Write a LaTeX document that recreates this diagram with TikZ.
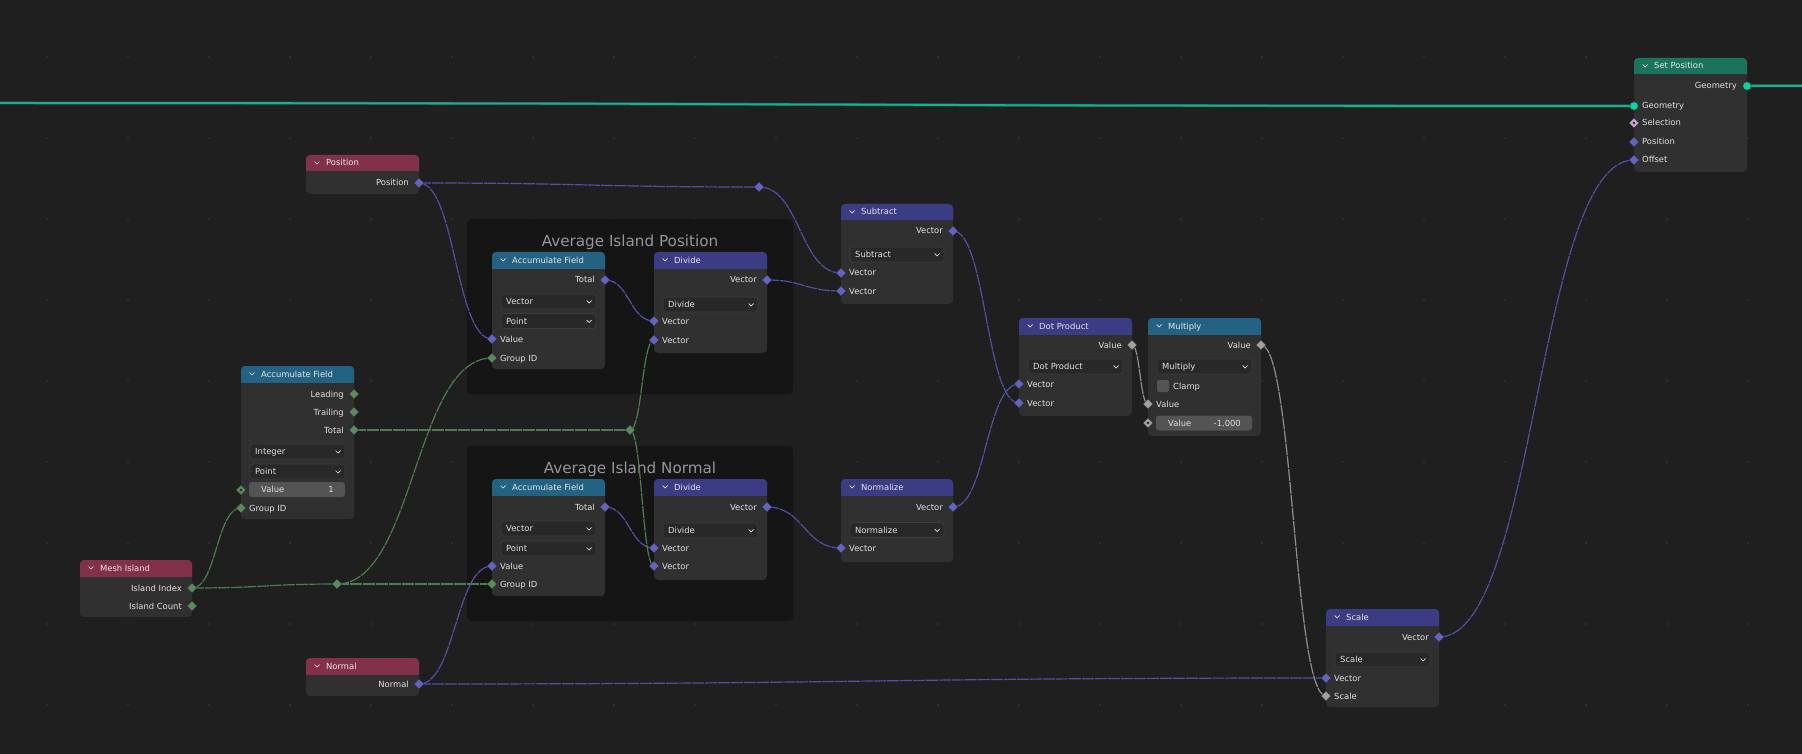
\documentclass[tikz,border=0pt]{standalone}
\usepackage{fontspec}
\setmainfont{DejaVu Sans}
\usetikzlibrary{shapes.geometric, calc, positioning}

\definecolor{bgc}{RGB}{31,31,31}
\definecolor{gridc}{RGB}{44,44,44}
\definecolor{framec}{RGB}{21,21,21}
\definecolor{bodyc}{RGB}{48,48,48}
\definecolor{ddc}{RGB}{40,40,40}
\definecolor{ddline}{RGB}{62,62,62}
\definecolor{fieldc}{RGB}{84,84,84}
\definecolor{txtc}{RGB}{224,224,224}
\definecolor{titlec}{RGB}{150,150,150}
\definecolor{hdrin}{RGB}{131,49,74}
\definecolor{hdrconv}{RGB}{36,98,131}
\definecolor{hdrvec}{RGB}{60,60,133}
\definecolor{hdrgeo}{RGB}{27,115,94}
\definecolor{vecc}{RGB}{99,99,199}
\definecolor{intc}{RGB}{89,140,92}
\definecolor{fltc}{RGB}{161,161,161}
\definecolor{geoc}{RGB}{0,214,163}
\definecolor{boolc}{RGB}{204,166,214}

\pgfdeclarelayer{back}
\pgfdeclarelayer{wires}
\pgfsetlayers{back,wires,main}

\tikzset{
  lbl/.style={
    inner sep=0,
    text=txtc,
    font=\fontsize{8.4}{10}\selectfont,
    text height=6.5pt,
    text depth=0.5pt
  },
  hdr/.style={
    lbl,
    text=white!90!black
  },
  ftitle/.style={
    inner sep=0,
    text=titlec,
    font=\fontsize{15.2}{18}\selectfont
  },
  chev/.style={
    draw=txtc,
    line width=0.7pt
  },
  sock/.style={
    diamond,
    inner sep=0,
    minimum size=10pt,
    draw=black!80,
    line width=0.4pt
  },
  vsock/.style={sock, fill=vecc},
  isock/.style={sock, fill=intc},
  fsock/.style={sock, fill=fltc},
  hollow/.style={
    path picture={\fill[bodyc!70!black] (path picture bounding box.center) circle (1.4pt);}
  },
  gsock/.style={
    circle,
    inner sep=0,
    minimum size=8.5pt,
    fill=geoc,
    draw=black!80,
    line width=0.4pt
  },
  wire/.style={
    line width=1.2pt,
    to path={let \p1=(\tikztostart), \p2=(\tikztotarget),
      \n1={0.5*abs(\x2-\x1)} in
      .. controls +(\n1,0) and +(-\n1,0) .. (\tikztotarget)}
  },
  vwire/.style={wire, draw=vecc!82!black, dash pattern=on 12pt off 1pt},
  iwire/.style={wire, draw=intc!88!black, dash pattern=on 12pt off 1pt},
  fwire/.style={wire, draw=fltc!88!black, dash pattern=on 12pt off 1pt},
  geowire/.style={
    wire,
    draw=black!70,
    line width=0.6pt,
    double=geoc!88!black,
    double distance=1.8pt
  }
}

% node body: name, left, top, right, bottom, header colour, title
\newcommand{\bnode}[7]{%
  \fill[bodyc, rounded corners=4pt] (#2,#3) rectangle (#4,#5);
  \begin{scope}
    \clip (#2,#3) rectangle (#4,#3+16);
    \fill[#6, rounded corners=4pt] (#2,#3) rectangle (#4,#5);
  \end{scope}
  \draw[chev] (#2+8.5,#3+6.5) -- (#2+11,#3+9) -- (#2+13.5,#3+6.5);
  \node[hdr, anchor=west] (#1) at (#2+20,#3+8) {#7};
}
% sockets: name, x, y, style, label
\newcommand{\osock}[5]{%
  \node[#4] (#1) at (#2,#3) {};
  \node[lbl, anchor=east] (#1-t) at (#2-10,#3) {#5};
}
\newcommand{\isockt}[5]{%
  \node[#4] (#1) at (#2,#3) {};
  \node[lbl, anchor=west] (#1-t) at (#2+8,#3) {#5};
}
% dropdown: name, left, right, y, text
\newcommand{\dd}[5]{%
  \draw[fill=ddc, draw=ddline, line width=0.6pt, rounded corners=3pt]
    (#2+9,#4-7.5) rectangle (#3-9,#4+7.5);
  \node[lbl, anchor=west] (#1) at (#2+14,#4) {#5};
  \draw[chev, line width=0.7pt] (#3-18.5,#4-1) -- (#3-16,#4+1.5) -- (#3-13.5,#4-1);
}
% value field: name, left, right, y, number
\newcommand{\vfield}[5]{%
  \fill[fieldc, rounded corners=3pt] (#2+8,#4-7.5) rectangle (#3-9,#4+7.5);
  \node[lbl, anchor=west] (#1) at (#2+20,#4) {Value};
  \node[lbl, anchor=east] (#1-n) at (#3-20,#4) {#5};
}

\begin{document}
\begin{tikzpicture}[x=1pt, y=-1pt]
\useasboundingbox (0,0) rectangle (1802,754);

\begin{pgfonlayer}{back}
\fill[bgc] (0,0) rectangle (1802,754);
\foreach \gx in {0,...,21}
  \foreach \gy in {0,...,8}
    \fill[gridc] ({46+81*\gx},{56+81*\gy}) rectangle +(2,2);

% --- Frames ---
\fill[framec, rounded corners=4pt] (467,219) rectangle (793,394);
\node[ftitle] (fr-pos) at (630,242) {Average Island Position};
\fill[framec, rounded corners=4pt] (467,446) rectangle (793,621);
\node[ftitle] (fr-nrm) at (630,469) {Average Island Normal};
\end{pgfonlayer}

% --- Inputs ---
\bnode{pos}{306}{155}{419}{194}{hdrin}{Position}
\osock{pos-out}{419}{183}{vsock}{Position}

\bnode{nrm}{306}{658}{419}{696}{hdrin}{Normal}
\osock{nrm-out}{419}{684}{vsock}{Normal}

\bnode{mi}{80}{560}{192}{617}{hdrin}{Mesh Island}
\osock{mi-idx}{192}{588}{isock}{Island Index}
\osock{mi-cnt}{192}{606}{isock}{Island Count}

% --- Accumulate Field (integer) ---
\bnode{accl}{241}{366}{354}{519}{hdrconv}{Accumulate Field}
\osock{accl-lead}{354}{394}{isock}{Leading}
\osock{accl-trail}{354}{412}{isock}{Trailing}
\osock{accl-tot}{354}{430}{isock}{Total}
\dd{accl-dt}{241}{354}{451.5}{Integer}
\dd{accl-dd}{241}{354}{471.5}{Point}
\node[isock, hollow] (accl-val) at (241,490) {};
\vfield{accl-vf}{241}{354}{489.5}{1}
\isockt{accl-gid}{241}{508}{isock}{Group ID}

% --- Average Island Position ---
\bnode{acct}{492}{252}{605}{369}{hdrconv}{Accumulate Field}
\osock{acct-tot}{605}{280}{vsock}{Total}
\dd{acct-dt}{492}{605}{301.5}{Vector}
\dd{acct-dd}{492}{605}{321}{Point}
\isockt{acct-val}{492}{339}{vsock}{Value}
\isockt{acct-gid}{492}{358}{isock}{Group ID}

\bnode{divt}{654}{252}{767}{353}{hdrvec}{Divide}
\osock{divt-out}{767}{280}{vsock}{Vector}
\dd{divt-op}{654}{767}{304.5}{Divide}
\isockt{divt-a}{654}{321}{vsock}{Vector}
\isockt{divt-b}{654}{340}{vsock}{Vector}

% --- Average Island Normal ---
\bnode{accb}{492}{479}{605}{596}{hdrconv}{Accumulate Field}
\osock{accb-tot}{605}{507}{vsock}{Total}
\dd{accb-dt}{492}{605}{528.5}{Vector}
\dd{accb-dd}{492}{605}{548.5}{Point}
\isockt{accb-val}{492}{566}{vsock}{Value}
\isockt{accb-gid}{492}{584}{isock}{Group ID}

\bnode{divb}{654}{479}{767}{580}{hdrvec}{Divide}
\osock{divb-out}{767}{507}{vsock}{Vector}
\dd{divb-op}{654}{767}{530.5}{Divide}
\isockt{divb-a}{654}{548}{vsock}{Vector}
\isockt{divb-b}{654}{566}{vsock}{Vector}

% --- Vector math ---
\bnode{sub}{841}{204}{953}{304}{hdrvec}{Subtract}
\osock{sub-out}{953}{231}{vsock}{Vector}
\dd{sub-op}{841}{953}{254.5}{Subtract}
\isockt{sub-a}{841}{273}{vsock}{Vector}
\isockt{sub-b}{841}{291}{vsock}{Vector}

\bnode{nz}{841}{479}{953}{562}{hdrvec}{Normalize}
\osock{nz-out}{953}{507}{vsock}{Vector}
\dd{nz-op}{841}{953}{530}{Normalize}
\isockt{nz-in}{841}{548}{vsock}{Vector}

\bnode{dot}{1019}{318}{1132}{416}{hdrvec}{Dot Product}
\osock{dot-out}{1132}{345}{fsock}{Value}
\dd{dot-op}{1019}{1132}{366.5}{Dot Product}
\isockt{dot-a}{1019}{384}{vsock}{Vector}
\isockt{dot-b}{1019}{403}{vsock}{Vector}

\bnode{mul}{1148}{318}{1261}{436}{hdrconv}{Multiply}
\osock{mul-out}{1261}{345}{fsock}{Value}
\dd{mul-op}{1148}{1261}{366.5}{Multiply}
\fill[fieldc, rounded corners=2pt] (1157,380) rectangle (1169,392);
\node[lbl, anchor=west] (mul-clamp) at (1173,386) {Clamp};
\isockt{mul-val}{1148}{404}{fsock}{Value}
\node[fsock, hollow] (mul-val2) at (1148,423) {};
\vfield{mul-vf}{1148}{1261}{423}{-1.000}

\bnode{scl}{1326}{609}{1439}{707}{hdrvec}{Scale}
\osock{scl-out}{1439}{637}{vsock}{Vector}
\dd{scl-op}{1326}{1439}{659.5}{Scale}
\isockt{scl-vec}{1326}{678}{vsock}{Vector}
\isockt{scl-fac}{1326}{696}{fsock}{Scale}

% --- Set Position ---
\bnode{sp}{1634}{58}{1747}{172}{hdrgeo}{Set Position}
\osock{sp-gout}{1747}{86}{gsock}{Geometry}
\isockt{sp-gin}{1634}{106}{gsock}{Geometry}
\isockt{sp-sel}{1634}{123}{sock, fill=boolc, hollow}{Selection}
\isockt{sp-pos}{1634}{142}{vsock}{Position}
\isockt{sp-off}{1634}{160}{vsock}{Offset}

% --- Reroutes ---
\node[vsock] (rr-pos) at (759,187) {};
\node[isock] (rr-idx) at (337,584) {};
\node[isock] (rr-tot) at (630,430) {};
\coordinate (geo-l) at (0,103);
\coordinate (geo-r) at (1802,86);

% --- Links ---
\begin{pgfonlayer}{wires}
\draw[geowire] (geo-l) to (sp-gin.center);
\draw[geowire] (sp-gout.center) to (geo-r);

\draw[vwire] (pos-out.center) to (rr-pos.center);
\draw[vwire] (rr-pos.center) to (sub-a.center);
\draw[vwire] (pos-out.center) to (acct-val.center);
\draw[vwire] (acct-tot.center) to (divt-a.center);
\draw[vwire] (divt-out.center) to (sub-b.center);
\draw[vwire] (sub-out.center) to (dot-b.center);
\draw[vwire] (nz-out.center) to (dot-a.center);
\draw[vwire] (accb-tot.center) to (divb-a.center);
\draw[vwire] (divb-out.center) to (nz-in.center);
\draw[vwire] (nrm-out.center) to (accb-val.center);
\draw[vwire] (nrm-out.center) to (scl-vec.center);
\draw[vwire] (scl-out.center) to (sp-off.center);

\draw[iwire] (mi-idx.center) to (accl-gid.center);
\draw[iwire] (mi-idx.center) to (rr-idx.center);
\draw[iwire] (rr-idx.center) to (acct-gid.center);
\draw[iwire] (rr-idx.center) to (accb-gid.center);
\draw[iwire] (accl-tot.center) to (rr-tot.center);
\draw[iwire] (rr-tot.center) to (divt-b.center);
\draw[iwire] (rr-tot.center) to (divb-b.center);

\draw[fwire] (dot-out.center) to (mul-val.center);
\draw[fwire] (mul-out.center) to (scl-fac.center);
\end{pgfonlayer}

\end{tikzpicture}
\end{document}
